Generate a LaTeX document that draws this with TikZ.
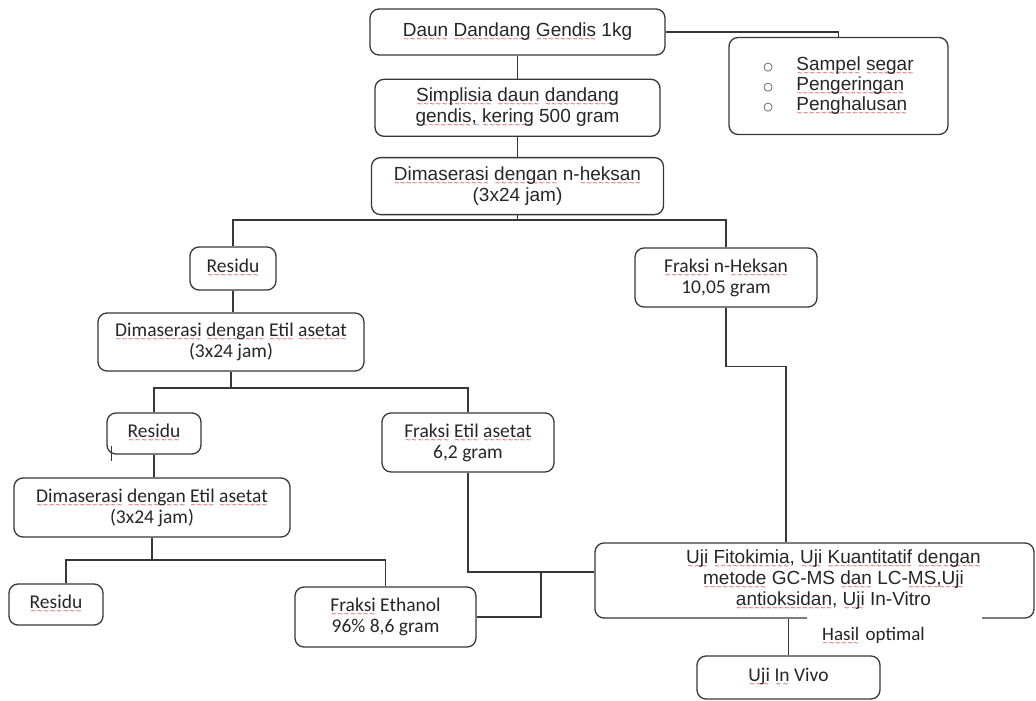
\documentclass[tikz,border=0pt]{standalone}
\usepackage{fontspec}
\usepackage{xcolor}
\usepackage{tikz}
\usetikzlibrary{positioning}
\setmainfont{Liberation Sans}
\newfontfamily\calibri{Carlito}
\newfontfamily\symb{DejaVu Sans}
\definecolor{spell}{RGB}{205,35,35}
\definecolor{gram}{RGB}{60,70,205}
\definecolor{garis}{RGB}{55,55,55}
\newsavebox\wordbox
\newcommand{\wavy}[2]{\sbox\wordbox{#2}\leavevmode\rlap{\lower5pt\hbox to\wd\wordbox{\color{#1}%
    \xleaders\hbox{\symb\fontsize{7}{7}\selectfont ∼}\hfil}}\usebox\wordbox}
\newcommand{\rw}[1]{\wavy{spell}{#1}}
\newcommand{\bw}[1]{\wavy{gram}{#1}}
\newcommand{\bul}{\makebox[33pt][l]{\symb\fontsize{11}{11}\selectfont ○}}

\begin{document}
\begin{tikzpicture}[
        x=1pt, y=-1pt,
        box/.style={draw=garis, line width=1.3pt, rounded corners=9pt, align=center,
            inner sep=0pt, text=black!85, font=\fontsize{19}{21}\selectfont},
        cbox/.style={box, font=\calibri\fontsize{19.5}{21}\selectfont},
        link/.style={draw=garis, line width=1.3pt}
    ]
    \useasboundingbox (0,0) rectangle (1036,701);

    % Nodes
    \node (daun) [box, minimum width=295pt, minimum height=46pt] at (517.5,32)
        {\rw{Daun} \rw{Dandang} \rw{Gendis} 1kg};
    \node (simplisia) [box, below=23pt of daun, minimum width=285pt, minimum height=57pt]
        {\rw{Simplisia} \rw{daun} \rw{dandang}\\ \rw{gendis}\bw{, }\rw{kering} 500 gram};
    \node (heksanmas) [box, below=20pt of simplisia, minimum width=292pt, minimum height=57pt]
        {\rw{Dimaserasi} \rw{dengan} n-\rw{heksan}\\ (3x24 jam)};
    \node (sampel) [box, align=left, minimum width=219pt, minimum height=97pt,
        font=\fontsize{19}{18}\selectfont] at (838.5,86)
        {\bul\rw{Sampel} \rw{segar}\\ \bul\rw{Pengeringan}\\ \bul\rw{Penghalusan}};
    \node (residuA) [cbox, minimum width=86pt, minimum height=43pt] at (233,268.5) {\rw{Residu}};
    \node (heksan) [cbox, minimum width=182pt, minimum height=59pt] at (726,277.5)
        {\rw{Fraksi} n-\rw{Heksan}\\ 10,05 gram};
    \node (etilmas1) [cbox, minimum width=266pt, minimum height=58pt] at (231,342)
        {\rw{Dimaserasi} \rw{dengan} \rw{Etil} \rw{asetat}\\ (3x24 jam)};
    \node (residuB) [cbox, minimum width=94pt, minimum height=41pt] at (154,433.5) {\rw{Residu}};
    \node (etil) [cbox, minimum width=172pt, minimum height=59pt] at (468,442.5)
        {\rw{Fraksi} \rw{Etil} \rw{asetat}\\ 6,2 gram};
    \node (etilmas2) [cbox, minimum width=276pt, minimum height=59pt] at (152,507.5)
        {\rw{Dimaserasi} \rw{dengan} \rw{Etil} \rw{asetat}\\ (3x24 jam)};
    \node (residuC) [cbox, minimum width=94pt, minimum height=41pt] at (56,604.5) {\rw{Residu}};
    \node (etanol) [cbox, minimum width=181pt, minimum height=60pt] at (385.5,617)
        {\rw{Fraksi} Ethanol\\ 96\% 8,6 gram};
    \node (uji) [box, minimum width=439pt, minimum height=75pt] at (814.5,580.5)
        {\hspace*{38pt}\rw{Uji} \rw{Fitokimia}, \rw{Uji} \rw{Kuantitatif} \rw{dengan}\\
         \hspace*{38pt}\rw{metode} GC-MS \rw{dan} LC-\rw{MS,Uji}\\
         \hspace*{38pt}\rw{antioksidan}, \rw{Uji} In-Vitro};
    \node (hasil) [fill=white, anchor=west, inner sep=0pt, text width=175pt, minimum height=40pt,
        align=left, text=black!85, font=\calibri\fontsize{19}{21}\selectfont] at (807,636)
        {\hspace*{15pt}\rw{Hasil} optimal};
    \node (invivo) [cbox, minimum width=183pt, minimum height=43pt] at (788.5,677.5)
        {\rw{Uji} \bw{In} Vivo};

    % Edges
    \draw[link] (daun) -- (simplisia);
    \draw[link] (simplisia) -- (heksanmas);
    \draw[link] (daun.east) -| (sampel.north);
    \coordinate (pisah1) at (heksanmas.south |- 0,220);
    \draw[link] (heksanmas.south) -- (pisah1);
    \draw[link] (residuA.north) |- (pisah1) -| (heksan.north);
    \draw[link] (residuA.south) -- (residuA.south |- etilmas1.north);
    \coordinate (pisah2) at (etilmas1.south |- 0,388);
    \draw[link] (etilmas1.south) -- (pisah2);
    \draw[link] (residuB.north) |- (pisah2) -| (etil.north);
    \draw[link] (residuB.south) -- (residuB.south |- etilmas2.north);
    \draw[garis, line width=0.8pt] (residuB.south west) ++(5,-9) -- ++(0,15);
    \coordinate (pisah3) at (etilmas2.south |- 0,560);
    \draw[link] (etilmas2.south) -- (pisah3);
    \draw[link] ([xshift=10pt]residuC.north) |- (pisah3) -| (etanol.north);
    \coordinate (gabung) at (541,572);
    \draw[link] (etil.south) |- (uji.west |- gabung);
    \draw[link] (etanol.east) -| (gabung);
    \draw[link] (heksan.south) -- ++(0,59) -| ([xshift=-28.5pt]uji.north);
    \draw[link] (invivo.north |- uji.south) -- (invivo.north);
\end{tikzpicture}
\end{document}
